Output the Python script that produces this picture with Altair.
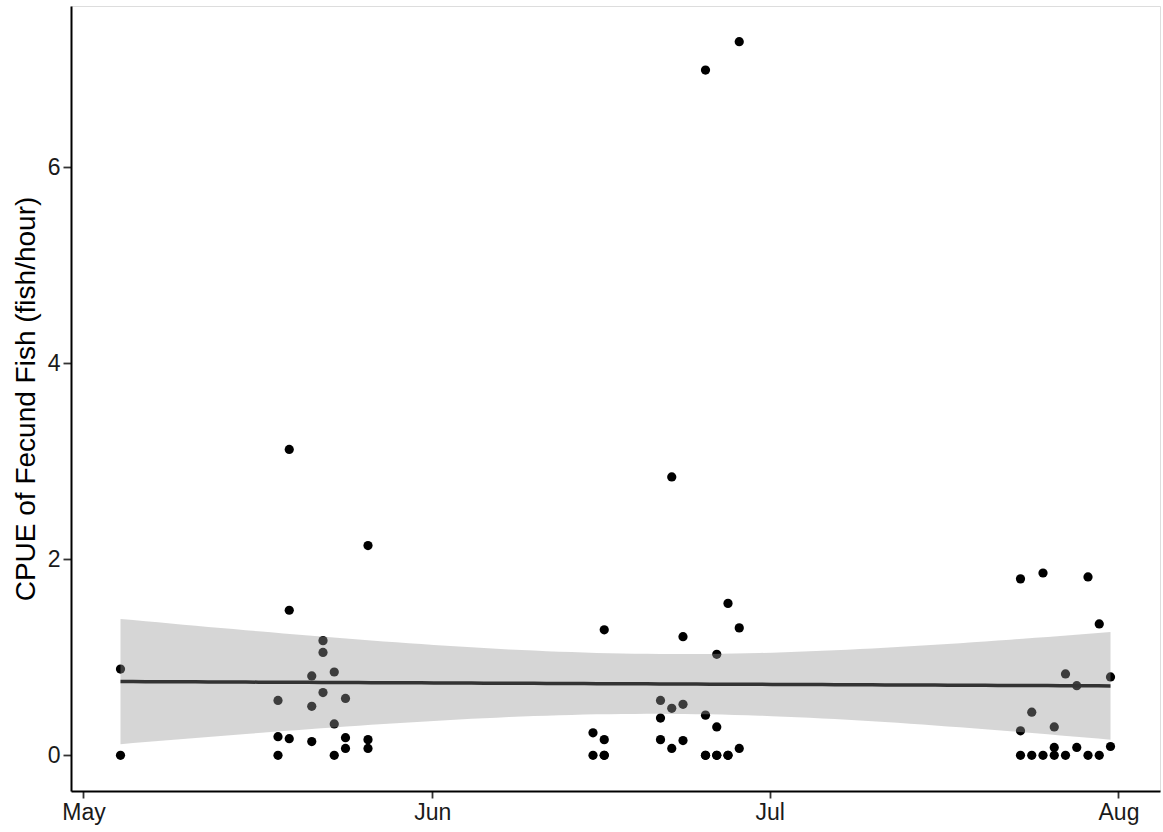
import altair as alt
import numpy as np
import pandas as pd

# Sampling dates (hauls) and catch per unit effort of fecund fish
sample_dates = [
    "2019-05-04", "2019-05-04",
    "2019-05-18", "2019-05-18", "2019-05-18",
    "2019-05-19", "2019-05-19", "2019-05-19",
    "2019-05-21", "2019-05-21", "2019-05-21",
    "2019-05-22", "2019-05-22", "2019-05-22",
    "2019-05-23", "2019-05-23", "2019-05-23",
    "2019-05-24", "2019-05-24", "2019-05-24",
    "2019-05-26", "2019-05-26", "2019-05-26",
    "2019-06-15", "2019-06-15",
    "2019-06-16", "2019-06-16", "2019-06-16", "2019-06-16",
    "2019-06-21", "2019-06-21", "2019-06-21",
    "2019-06-22", "2019-06-22", "2019-06-22",
    "2019-06-23", "2019-06-23", "2019-06-23",
    "2019-06-25", "2019-06-25", "2019-06-25", "2019-06-25",
    "2019-06-26", "2019-06-26", "2019-06-26", "2019-06-26",
    "2019-06-27", "2019-06-27", "2019-06-27",
    "2019-06-28", "2019-06-28", "2019-06-28",
    "2019-07-23", "2019-07-23", "2019-07-23",
    "2019-07-24", "2019-07-24",
    "2019-07-25", "2019-07-25",
    "2019-07-26", "2019-07-26", "2019-07-26",
    "2019-07-27", "2019-07-27",
    "2019-07-28", "2019-07-28",
    "2019-07-29", "2019-07-29",
    "2019-07-30", "2019-07-30",
    "2019-07-31", "2019-07-31",
]
cpue = [
    0.88, 0.00,
    0.56, 0.19, 0.00,
    3.12, 1.48, 0.17,
    0.81, 0.50, 0.14,
    1.17, 1.05, 0.64,
    0.85, 0.32, 0.00,
    0.58, 0.18, 0.07,
    2.14, 0.16, 0.07,
    0.23, 0.00,
    1.28, 0.16, 0.00, 0.00,
    0.56, 0.38, 0.16,
    2.84, 0.48, 0.07,
    1.21, 0.52, 0.15,
    6.99, 0.41, 0.00, 0.00,
    1.03, 0.29, 0.00, 0.00,
    1.55, 0.00, 0.00,
    7.28, 1.30, 0.07,
    1.80, 0.25, 0.00,
    0.44, 0.00,
    1.86, 0.00,
    0.29, 0.08, 0.00,
    0.83, 0.00,
    0.71, 0.08,
    1.82, 0.00,
    1.34, 0.00,
    0.80, 0.09,
]
month_ticks = ["2019-05-01", "2019-06-01", "2019-07-01", "2019-08-01"]
y_ticks = [0, 2, 4, 6]

# Samples were taken in the morning
dates = pd.to_datetime(sample_dates) + pd.Timedelta(hours=7)
points = pd.DataFrame({"date": dates, "cpue": cpue})

# Linear fit with a 95% confidence band
day0 = pd.Timestamp("2019-05-01")
xd = np.asarray((dates - day0) / pd.Timedelta(days=1), dtype=float)
yv = np.asarray(cpue, dtype=float)
n = len(xd)
slope, intercept = np.polyfit(xd, yv, 1)
resid = yv - (intercept + slope * xd)
s = np.sqrt(np.sum(resid ** 2) / (n - 2))
sxx = np.sum((xd - xd.mean()) ** 2)
t_crit = 1.994  # t quantile, 0.975, df = n - 2
grid = np.linspace(xd.min(), xd.max(), 80)
fit = intercept + slope * grid
se = s * np.sqrt(1.0 / n + (grid - xd.mean()) ** 2 / sxx)
band = pd.DataFrame({
    "date": day0 + pd.to_timedelta(grid, unit="D"),
    "fit": fit,
    "lo": fit - t_crit * se,
    "hi": fit + t_crit * se,
})

# Axis limits with 5% expansion on each side
span = xd.max() - xd.min()
x_lo = day0 + pd.Timedelta(days=xd.min() - 0.05 * span)
x_hi = day0 + pd.Timedelta(days=xd.max() + 0.05 * span)
y_span = max(cpue) - min(cpue)
y_dom = [min(cpue) - 0.05 * y_span, max(cpue) + 0.05 * y_span]


def dt(ts):
    return alt.DateTime(year=ts.year, month=ts.month, date=ts.day,
                        hours=ts.hour, minutes=ts.minute)


x_scale = alt.Scale(domain=[dt(x_lo), dt(x_hi)], nice=False)
y_scale = alt.Scale(domain=y_dom, nice=False, zero=False)

x_axis = alt.Axis(
    values=[dt(pd.Timestamp(m)) for m in month_ticks], format="%b",
    title=None, grid=False, domainColor="black", domainWidth=2,
    tickColor="#333333", tickWidth=1.8, tickSize=7, labelPadding=3,
    labelFont="Liberation Sans", labelFontSize=23, labelColor="#1a1a1a",
)
y_axis = alt.Axis(
    values=y_ticks, format="d", title="CPUE of Fecund Fish (fish/hour)",
    grid=False, domainColor="black", domainWidth=2, tickColor="#333333",
    tickWidth=1.8, tickSize=8, labelPadding=3, labelFont="Liberation Sans",
    labelFontSize=23, labelColor="#1a1a1a", titleFont="Liberation Sans",
    titleFontSize=28, titleFontWeight="normal", titleColor="black",
    titlePadding=7,
)

pts = alt.Chart(points).mark_circle(size=85, color="black", opacity=1).encode(
    x=alt.X("date:T", scale=x_scale, axis=x_axis),
    y=alt.Y("cpue:Q", scale=y_scale, axis=y_axis),
)

ribbon = alt.Chart(band).mark_area(color="#999999", opacity=0.4).encode(
    x=alt.X("date:T", scale=x_scale),
    y=alt.Y("lo:Q", scale=y_scale),
    y2="hi:Q",
)

line = alt.Chart(band).mark_line(color="#333333", strokeWidth=3.5).encode(
    x=alt.X("date:T", scale=x_scale),
    y=alt.Y("fit:Q", scale=y_scale),
)

chart = (
    alt.layer(pts, ribbon, line)
    .properties(
        width=1089, height=785,
        autosize=alt.AutoSizeParams(type="none"),
        padding={"left": 71, "top": 6, "right": 3, "bottom": 41},
    )
    .configure_view(stroke=None)
    .configure(background="white")
)

chart.save("out.html", embed_options={"renderer": "svg", "actions": False})
